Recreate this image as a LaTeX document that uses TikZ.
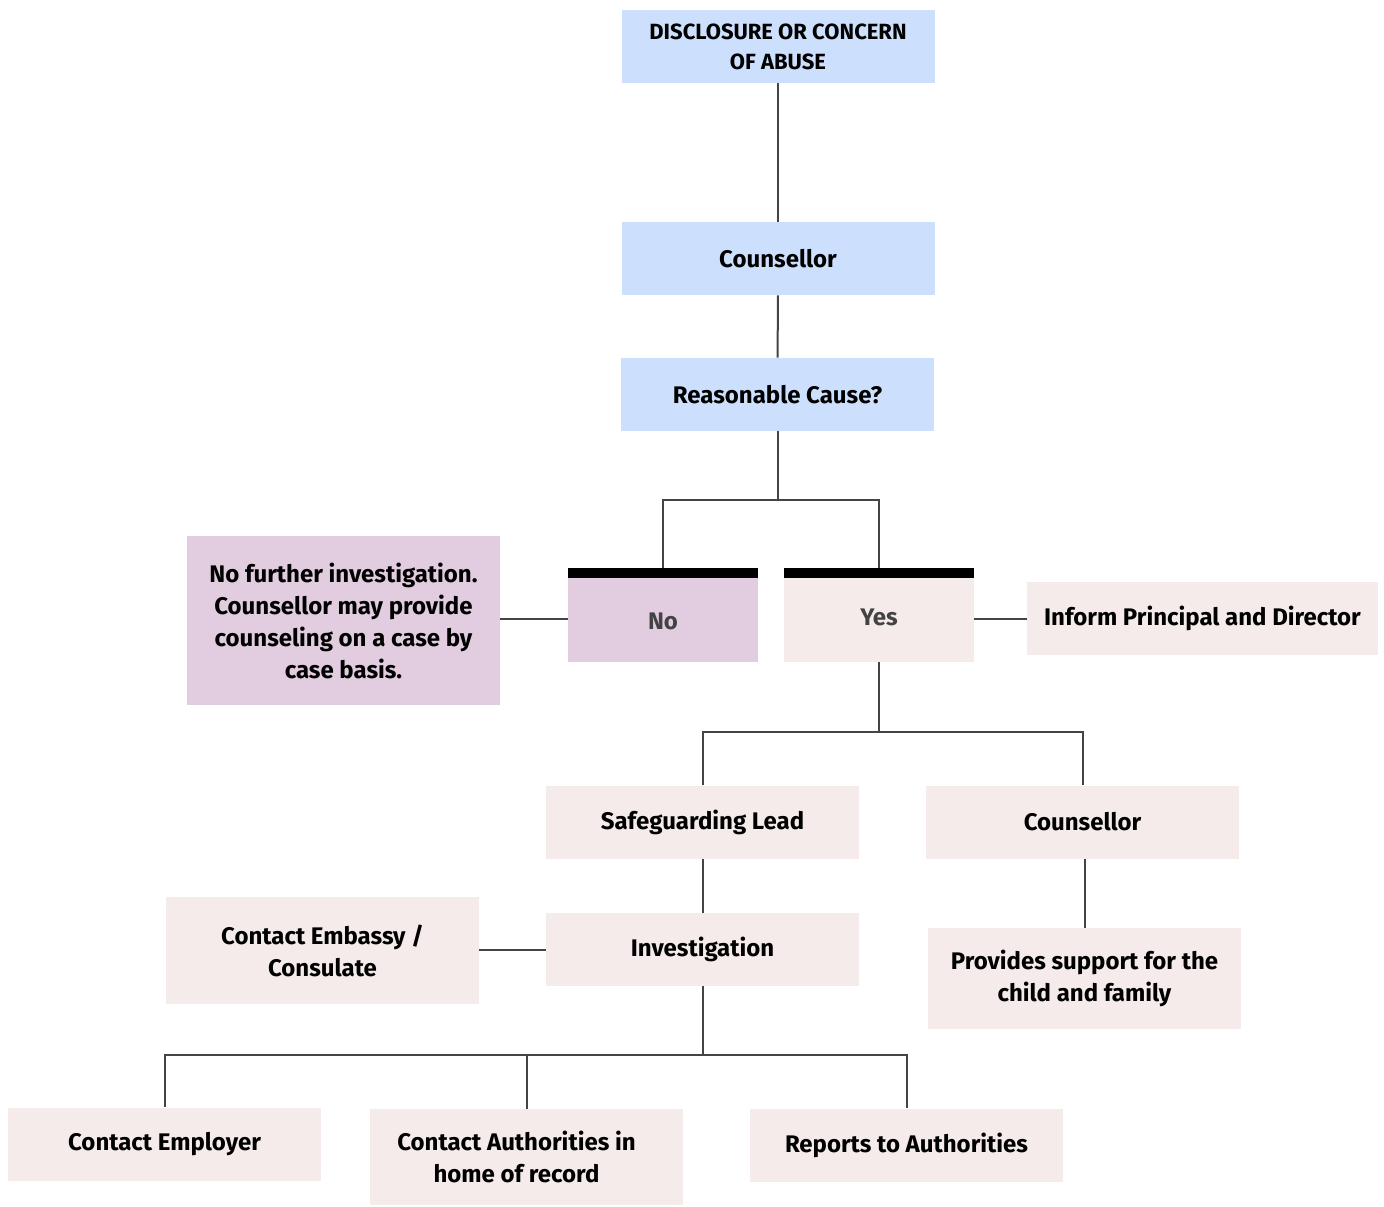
\documentclass[tikz,border=0pt]{standalone}
\usepackage{fontspec}
\setmainfont{Fira Sans}
\usepackage{xcolor}
\usepackage{tikz}

\definecolor{boxblue}{HTML}{CCDFFC}
\definecolor{boxpink}{HTML}{F5EBEB}
\definecolor{boxlilac}{HTML}{E1CCE0}
\definecolor{linegray}{HTML}{444444}
\definecolor{textgray}{HTML}{434343}

\tikzset{
	box/.style={shape=rectangle,inner sep=0pt,minimum width=156.5pt,minimum height=36.5pt,align=center,font=\fontsize{12}{16}\selectfont\bfseries},
	bluebox/.style={box,fill=boxblue},
	pinkbox/.style={box,fill=boxpink},
	choice/.style={box,minimum width=95pt,minimum height=47pt,text=textgray,text depth=0pt,
		path picture={\fill[black] (path picture bounding box.north west) rectangle ([yshift=-5pt]path picture bounding box.north east);}},
	link/.style={draw=linegray,line width=1pt}
}

\begin{document}
\begin{tikzpicture}[x=0.5pt,y=-0.5pt]
	\useasboundingbox (0,0) rectangle (1384,1206);
	\node[bluebox,font=\fontsize{11}{15}\selectfont\bfseries] (abuse) at (778, 46.5) {DISCLOSURE OR CONCERN\\OF ABUSE};
	\node[bluebox] (couns) at (778, 258.5) {Counsellor};
	\node[bluebox] (reason) at (777.5, 394.5) {Reasonable Cause?};
	\node[choice,fill=boxlilac,text height=14.4pt] (no) at (663, 615) {No};
	\node[choice,fill=boxpink,text height=10.4pt] (yes) at (879, 615) {Yes};
	\node[box,fill=boxlilac,minimum height=84.5pt] (nofurther) at (343.5, 620.5) {No further investigation.\\Counsellor may provide\\counseling on a case by\\case basis.};
	\node[pinkbox,minimum width=175.5pt] (inform) at (1202.5, 618.5) {Inform Principal and Director};
	\node[pinkbox] (lead) at (702.5, 822) {Safeguarding Lead};
	\node[pinkbox] (counstwo) at (1082.5, 822) {Counsellor};
	\node[pinkbox] (invest) at (702.5, 949.5) {Investigation};
	\node[pinkbox,minimum height=53.5pt] (embassy) at (322.5, 950.5) {Contact Embassy /\\Consulate};
	\node[pinkbox,minimum height=50.5pt] (support) at (1084.5, 978.5) {Provides support for the\\child and family};
	\node[pinkbox] (employer) at (164.5, 1144) {Contact Employer};
	\node[pinkbox,minimum height=48pt] (authorities) at (526.5, 1157) {Contact Authorities in\hspace*{10pt}\\home of record\hspace*{10pt}};
	\node[pinkbox] (reports) at (906.5, 1145) {Reports to Authorities};
	\path[link] (abuse) -- (couns);
	\path[link] (couns) -- (reason);
	\path[link] (reason.south) -- (reason.south |- 0,500) -| (no.north);
	\path[link] (reason.south |- 0,500) -| (yes.north);
	\path[link] (no.west |- 0,619) -- (nofurther.east |- 0,619);
	\path[link] (yes.east |- 0,619) -- (inform.west |- 0,619);
	\path[link] (yes.south) -- (yes.south |- 0,732) -| (lead.north);
	\path[link] (yes.south |- 0,732) -| (counstwo.north);
	\path[link] (lead) -- (invest);
	\path[link] (invest) -- (embassy.east |- invest);
	\path[link] (support.north |- counstwo.south) -- (support.north);
	\path[link] (invest.south) -- (invest.south |- 0,1055) -| (employer.north);
	\path[link] (invest.south |- 0,1055) -| (authorities.north);
	\path[link] (invest.south |- 0,1055) -| (reports.north);
\end{tikzpicture}
\end{document}
